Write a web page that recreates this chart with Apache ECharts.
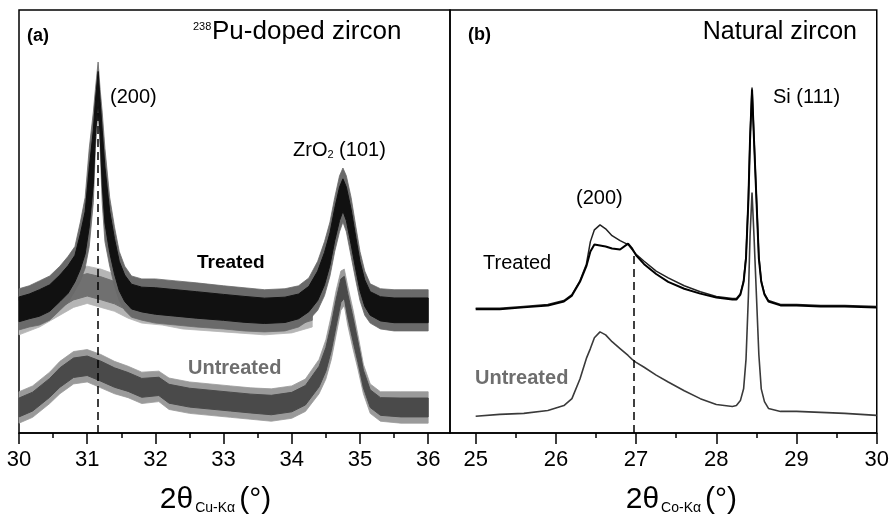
<!DOCTYPE html>
<html>
<head>
<meta charset="utf-8">
<script src="https://cdn.jsdelivr.net/npm/echarts@6/dist/echarts.min.js"></script>
<style>
  html, body { margin: 0; padding: 0; background: #fff; }
  #chart { width: 892px; height: 520px; }
</style>
</head>
<body>
<div id="chart"></div>
<script>
// heights in pixels above the axis line

// (a) 238Pu-doped zircon, treated (noise band: lower / upper edge)
const TA_X = [30.0, 30.15, 30.3, 30.45, 30.6, 30.72, 30.82, 30.9, 30.97, 31.03, 31.09, 31.12, 31.16, 31.19, 31.22, 31.26, 31.33, 31.4, 31.47, 31.55, 31.65, 31.8, 32.0, 32.3, 32.6, 33.0, 33.3, 33.6, 33.9, 34.1, 34.25, 34.38, 34.48, 34.56, 34.63, 34.7, 34.75, 34.8, 34.87, 34.94, 35.0, 35.07, 35.15, 35.3, 35.5, 35.75, 36.0]
const TA_HI = [147, 150, 155, 160, 170, 180, 190, 215, 240, 290, 327, 350, 378, 350, 327, 290, 240, 210, 185, 170, 160, 157, 157, 155, 153, 150, 148, 146, 147, 150, 158, 175, 195, 215, 240, 262, 270, 262, 240, 210, 185, 165, 152, 147, 146, 146, 146]
const TA_LO = [105, 108, 110, 115, 125, 133, 145, 155, 168, 190, 235, 290, 330, 290, 235, 195, 170, 150, 135, 125, 118, 115, 112, 110, 108, 106, 104, 103, 104, 108, 115, 125, 140, 160, 185, 205, 215, 205, 180, 155, 135, 120, 112, 106, 104, 104, 104]

// (a) grey trace lying under the treated one
const TG_X = [30.0, 30.3, 30.6, 30.8, 31.0, 31.2, 31.4, 31.6, 31.8, 32.1, 32.4, 32.8, 33.2, 33.6, 34.0, 34.3]
const TG_HI = [135, 143, 158, 166, 170, 167, 162, 155, 150, 148, 140, 138, 135, 133, 136, 142]
const TG_LO = [100, 108, 120, 128, 132, 128, 124, 117, 112, 110, 106, 104, 102, 100, 102, 108]

// (a) untreated
const UA_X = [30.0, 30.2, 30.45, 30.6, 30.8, 31.0, 31.2, 31.4, 31.6, 31.8, 32.05, 32.2, 32.5, 32.8, 33.1, 33.4, 33.7, 34.0, 34.2, 34.4, 34.5, 34.58, 34.65, 34.72, 34.77, 34.82, 34.9, 34.97, 35.05, 35.15, 35.3, 35.6, 36.0]
const UA_HI = [42, 48, 62, 73, 83, 85, 80, 73, 68, 62, 63, 56, 52, 50, 48, 46, 45, 48, 55, 75, 95, 120, 145, 165, 167, 150, 125, 100, 70, 50, 42, 42, 42]
const UA_LO = [10, 16, 30, 40, 50, 52, 46, 40, 36, 30, 32, 24, 20, 18, 16, 14, 12, 15, 22, 40, 55, 75, 100, 125, 130, 110, 85, 65, 40, 20, 12, 10, 10]

// (b) natural zircon
const B_X = [25.0, 25.3, 25.6, 25.9, 26.1, 26.2, 26.3, 26.38, 26.43, 26.48, 26.55, 26.62, 26.7, 26.8, 26.9, 26.95, 27.0, 27.1, 27.25, 27.4, 27.6, 27.8, 28.0, 28.2, 28.25, 28.3, 28.34, 28.37, 28.4, 28.42, 28.445, 28.47, 28.5, 28.53, 28.56, 28.6, 28.65, 28.8, 29.0, 29.3, 29.6, 30.0]
const TB1_Y = [127, 127, 129, 131, 135, 141, 155, 172, 195, 207, 212, 208, 201, 196, 192, 187, 182, 175, 165, 158, 150, 144, 139, 137, 137, 142, 155, 180, 240, 300, 352, 300, 240, 180, 155, 142, 135, 131, 131, 130, 130, 129]
const TB2_Y = [126, 126, 128, 130, 134, 140, 154, 170, 185, 192, 191, 190, 188, 187, 193, 188, 181, 172, 162, 154, 147, 142, 138, 136, 136, 141, 154, 178, 238, 298, 350, 298, 238, 178, 154, 141, 134, 130, 130, 129, 129, 128]
const UB_Y = [17, 19, 20, 23, 28, 35, 55, 76, 86, 97, 103, 100, 93, 86, 79, 75, 72, 67, 59, 52, 43, 35, 29, 27, 28, 33, 45, 75, 140, 200, 245, 200, 140, 80, 45, 32, 25, 22, 22, 21, 20, 18]

// ticks
const TICKS_A = [30, 31, 32, 33, 34, 35, 36]
const MINOR_A = [30.5, 31.5, 32.5, 33.5, 34.5, 35.5]
const TICKS_B = [25, 26, 27, 28, 29, 30]
const MINOR_B = [25.5, 26.5, 27.5, 28.5, 29.5]

// dashed reference lines [x, top]
const DASH_A = [31.15, 327]
const DASH_B = [26.97, 182]

const FONT = "'Liberation Sans', Arial, Helvetica, sans-serif"

const pairs = (xs, ys) => xs.map((x, i) => [x, ys[i]])

// noise band: a faint outer polygon (spikes) and a solid core
function band(name, xs, hi, lo, color, faint){
  return {
    name: name, type: 'custom', xAxisIndex: 0, yAxisIndex: 0, silent: true,
    encode: { x: 0, y: [1, 2] },
    data: xs.map((x, i) => [x, lo[i], hi[i]]),
    renderItem: (params, api) => {
      if (params.dataIndexInside !== 0) return null
      const n = params.dataInsideLength
      const poly = (k) => {
        const top = [], bot = []
        for (let j = 0; j < n; j++) {
          const x = api.value(0, j), l = api.value(1, j), h = api.value(2, j)
          const d = (h - l) * k
          top.push(api.coord([x, h - d]))
          bot.push(api.coord([x, l + d]))
        }
        return top.concat(bot.reverse())
      }
      return {
        type: 'group',
        children: [
          { type: 'polygon', shape: { points: poly(0) }, style: { fill: faint, stroke: faint, lineWidth: 0.8 } },
          { type: 'polygon', shape: { points: poly(0.2) }, style: { fill: color, stroke: color, lineWidth: 1 } }
        ]
      }
    }
  }
}

function line(name, ys, color, width){
  return {
    name: name, type: 'line', xAxisIndex: 2, yAxisIndex: 1,
    symbol: 'none', silent: true,
    lineStyle: { color: color, width: width },
    data: pairs(B_X, ys)
  }
}

function dash(axisX, axisY, d){
  return {
    type: 'line', xAxisIndex: axisX, yAxisIndex: axisY, data: [], silent: true,
    markLine: {
      symbol: 'none', silent: true, animation: false,
      label: { show: false },
      lineStyle: { color: '#000', width: 1.5, type: [8, 5] },
      data: [[{ coord: [d[0], 0] }, { coord: [d[0], d[1]] }]]
    }
  }
}

function mainAxis(grid, min, max, ticks, title, pad){
  return {
    type: 'value', gridIndex: grid, min: min, max: max, position: 'bottom',
    splitLine: { show: false },
    axisLine: { lineStyle: { color: '#000', width: 1.5 } },
    axisTick: { customValues: ticks, length: 11, inside: false, lineStyle: { color: '#000', width: 1.5 } },
    axisLabel: { customValues: ticks, fontSize: 22, color: '#000', fontFamily: FONT, margin: 16 },
    name: title, nameLocation: 'middle', nameGap: 52,
    nameTextStyle: {
      padding: pad,
      rich: {
        a: { fontSize: 30, fontFamily: FONT, color: '#000' },
        s: { fontSize: 14, fontFamily: FONT, color: '#000', verticalAlign: 'bottom', padding: [0, 4, 0, 2] }
      }
    }
  }
}

function minorAxis(grid, min, max, ticks){
  return {
    type: 'value', gridIndex: grid, min: min, max: max, position: 'bottom',
    splitLine: { show: false },
    axisLine: { show: false },
    axisLabel: { show: false },
    axisTick: { customValues: ticks, length: 5, lineStyle: { color: '#000', width: 1.5 } }
  }
}

function yAxis(grid){
  return {
    type: 'value', gridIndex: grid, min: 0, max: 431,
    axisLine: { show: false }, axisTick: { show: false },
    axisLabel: { show: false }, splitLine: { show: false }
  }
}

function txt(x, y, text, size, opts){
  return {
    type: 'text', x: x, y: y, silent: true,
    style: Object.assign({
      text: text, fontSize: size, fontFamily: FONT, fill: '#000',
      textAlign: 'left', textVerticalAlign: 'middle'
    }, opts || {})
  }
}

const chart = echarts.init(document.getElementById('chart'), null, { renderer: 'canvas' })
chart.setOption({
  animation: false,
  backgroundColor: '#fff',
  grid: [
    { left: 19, right: 442, top: 10, bottom: 79, show: true, borderColor: '#000', borderWidth: 1.5 },
    { left: 450, right: 11, top: 10, bottom: 79, show: true, borderColor: '#000', borderWidth: 1.5 }
  ],
  xAxis: [
    mainAxis(0, 30, 36.32, TICKS_A, '{a|2θ}{s|Cu-Kα}{a|(°)}', [0, 38, 0, 0]),
    minorAxis(0, 30, 36.32, MINOR_A),
    mainAxis(1, 24.68, 30, TICKS_B, '{a|2θ}{s|Co-Kα}{a|(°)}', [0, 0, 0, 36]),
    minorAxis(1, 24.68, 30, MINOR_B)
  ],
  yAxis: [yAxis(0), yAxis(1)],
  series: [
    band('grey-a', TG_X, TG_HI, TG_LO, '#707070', '#b5b5b5'),
    band('untreated-a', UA_X, UA_HI, UA_LO, '#4a4a4a', '#9a9a9a'),
    band('treated-a', TA_X, TA_HI, TA_LO, '#111111', '#6a6a6a'),
    dash(0, 0, DASH_A),
    line('untreated-b', UB_Y, '#3a3a3a', 1.6),
    line('treated-b1', TB1_Y, '#222', 1.5),
    line('treated-b2', TB2_Y, '#000', 2),
    dash(2, 1, DASH_B)
  ],
  graphic: [
    txt(27, 36, '(a)', 18, { fontWeight: 'bold' }),
    txt(193, 27, '238', 11),
    txt(212, 32, 'Pu-doped zircon', 26),
    txt(110, 97, '(200)', 20),
    txt(293, 150, 'ZrO{s|2} (101)', 20, {
      rich: { s: { fontSize: 11, fontFamily: FONT, fill: '#000', verticalAlign: 'bottom' } }
    }),
    txt(197, 263, 'Treated', 19, { fontWeight: 'bold' }),
    txt(188, 368, 'Untreated', 20, { fontWeight: 'bold', fill: '#6e6e6e' }),
    txt(468, 35, '(b)', 18, { fontWeight: 'bold' }),
    txt(857, 32, 'Natural zircon', 25, { textAlign: 'right' }),
    txt(773, 97, 'Si (111)', 20),
    txt(576, 198, '(200)', 20),
    txt(483, 263, 'Treated', 20),
    txt(475, 378, 'Untreated', 20, { fontWeight: 'bold', fill: '#6e6e6e' })
  ]
})
</script>
</body>
</html>
